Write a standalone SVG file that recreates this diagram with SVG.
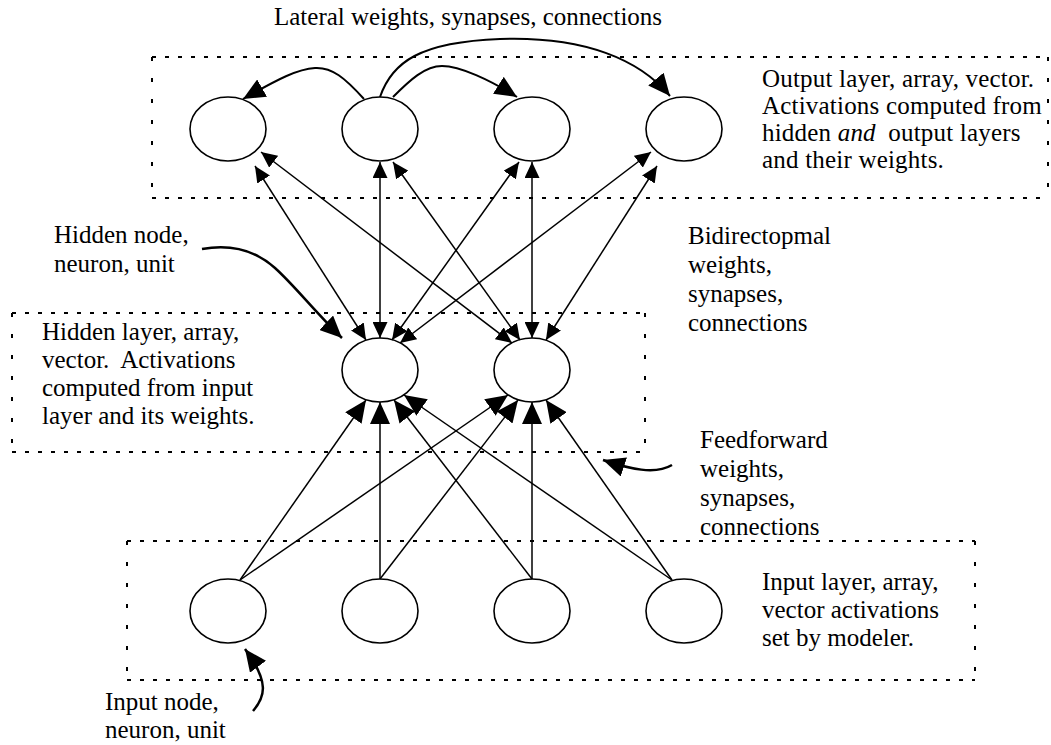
<svg xmlns="http://www.w3.org/2000/svg" width="1051" height="745" viewBox="0 0 1051 745">
<style>
.t{font-family:"Liberation Serif","Times New Roman",serif;font-size:25px;fill:#000}
.node{fill:#fff;stroke:#000;stroke-width:1.6}
.hd{stroke:#000;stroke-width:2;stroke-dasharray:4 9;fill:none}
.vd{stroke:#000;stroke-width:2;stroke-dasharray:4 17;fill:none}
.bi{stroke:#000;stroke-width:1.5;fill:none;marker-start:url(#aS);marker-end:url(#aS)}
.ff{stroke:#000;stroke-width:1.5;fill:none;marker-end:url(#aM)}
.lat{stroke:#000;stroke-width:2;fill:none;marker-end:url(#aL)}
.ann{stroke:#000;stroke-width:2.5;fill:none;marker-end:url(#aL)}
</style>
<defs>
<marker id="aS" markerUnits="userSpaceOnUse" viewBox="0 0 16 15" markerWidth="16" markerHeight="15" refX="16" refY="7.5" orient="auto-start-reverse"><path d="M0,0 L16,7.5 L0,15 z" fill="#000"/></marker>
<marker id="aM" markerUnits="userSpaceOnUse" viewBox="0 0 22 20" markerWidth="22" markerHeight="20" refX="22" refY="10" orient="auto"><path d="M0,0 L22,10 L0,20 z" fill="#000"/></marker>
<marker id="aL" markerUnits="userSpaceOnUse" viewBox="0 0 22 20" markerWidth="22" markerHeight="20" refX="22" refY="10" orient="auto"><path d="M0,0 L22,10 L0,20 z" fill="#000"/></marker>
</defs>

<g id="layer-boxes">
<line class="hd" x1="152" y1="57" x2="1048" y2="57"/>
<line class="hd" x1="152" y1="198" x2="1048" y2="198"/>
<line class="vd" x1="152" y1="57" x2="152" y2="198"/>
<line class="vd" x1="1048" y1="57" x2="1048" y2="198"/>
<line class="hd" x1="12" y1="313" x2="645" y2="313"/>
<line class="hd" x1="12" y1="452" x2="645" y2="452"/>
<line class="vd" x1="12" y1="313" x2="12" y2="452"/>
<line class="vd" x1="645" y1="313" x2="645" y2="452"/>
<line class="hd" x1="127" y1="541" x2="975" y2="541"/>
<line class="hd" x1="127" y1="680" x2="975" y2="680"/>
<line class="vd" x1="127" y1="541" x2="127" y2="680"/>
<line class="vd" x1="975" y1="541" x2="975" y2="680"/>
</g>

<g id="out1"><ellipse class="node" cx="228" cy="129" rx="38" ry="32"/></g>
<g id="out2"><ellipse class="node" cx="380" cy="129" rx="38" ry="32"/></g>
<g id="out3"><ellipse class="node" cx="532" cy="129" rx="38" ry="32"/></g>
<g id="out4"><ellipse class="node" cx="684" cy="129" rx="38" ry="32"/></g>
<g id="hid1"><ellipse class="node" cx="380" cy="370" rx="38" ry="32"/></g>
<g id="hid2"><ellipse class="node" cx="532" cy="370" rx="38" ry="32"/></g>
<g id="in1"><ellipse class="node" cx="228" cy="611" rx="38" ry="32"/></g>
<g id="in2"><ellipse class="node" cx="380" cy="611" rx="38" ry="32"/></g>
<g id="in3"><ellipse class="node" cx="532" cy="611" rx="38" ry="32"/></g>
<g id="in4"><ellipse class="node" cx="684" cy="611" rx="38" ry="32"/></g>

<g id="connectors">
<line class="bi" x1="255" y1="166" x2="366" y2="340"/>
<line class="bi" x1="261" y1="152" x2="512" y2="343"/>
<line class="bi" x1="380" y1="162" x2="380" y2="338"/>
<line class="bi" x1="393" y1="162" x2="520" y2="340"/>
<line class="bi" x1="519" y1="162" x2="392" y2="340"/>
<line class="bi" x1="532" y1="162" x2="532" y2="338"/>
<line class="bi" x1="651" y1="152" x2="400" y2="343"/>
<line class="bi" x1="657" y1="166" x2="546" y2="340"/>
<line class="ff" x1="240" y1="580" x2="366" y2="400"/>
<line class="ff" x1="240" y1="580" x2="508" y2="395"/>
<line class="ff" x1="380" y1="579" x2="380" y2="402"/>
<line class="ff" x1="380" y1="579" x2="518" y2="400"/>
<line class="ff" x1="532" y1="579" x2="394" y2="400"/>
<line class="ff" x1="532" y1="579" x2="532" y2="402"/>
<line class="ff" x1="672" y1="580" x2="404" y2="395"/>
<line class="ff" x1="672" y1="580" x2="546" y2="400"/>
<path class="lat" d="M364,99 C345,78 332,67 315,68 C298,69 280,78 243,99"/>
<path class="lat" d="M393,97 C410,80 425,66 442,66 C460,66 490,80 517,97"/>
<path class="lat" d="M380,97 C392,62 420,42 500,39 C585,36 640,60 670,96"/>
<path class="ann" d="M202,249 C230,244 255,250 275,268 C295,286 315,312 342,338"/>
<path class="ann" d="M672,465 C655,475 630,469 603,460"/>
<path class="ann" d="M253,711 C265,697 270,683 245,649"/>
</g>

<g id="labels">
<text class="t" x="274" y="25">Lateral weights, synapses, connections</text>
<text class="t" x="762" y="87" letter-spacing="0.2">Output layer, array, vector.</text>
<text class="t" x="762" y="114" letter-spacing="0.2">Activations computed from</text>
<text class="t" x="762" y="141" letter-spacing="0.2">hidden <tspan font-style="italic">and</tspan><tspan dx="6"> output layers</tspan></text>
<text class="t" x="762" y="168" letter-spacing="0.2">and their weights.</text>
<text class="t" x="54" y="243">Hidden node,</text>
<text class="t" x="54" y="272">neuron, unit</text>
<text class="t" x="688" y="244">Bidirectopmal</text>
<text class="t" x="688" y="273">weights,</text>
<text class="t" x="688" y="302">synapses,</text>
<text class="t" x="688" y="331">connections</text>
<text class="t" x="42" y="340">Hidden layer, array,</text>
<text class="t" x="42" y="368">vector.<tspan dx="6"> Activations</tspan></text>
<text class="t" x="42" y="396">computed from input</text>
<text class="t" x="42" y="424">layer and its weights.</text>
<text class="t" x="700" y="448">Feedforward</text>
<text class="t" x="700" y="477">weights,</text>
<text class="t" x="700" y="506">synapses,</text>
<text class="t" x="700" y="535">connections</text>
<text class="t" x="762" y="590">Input layer, array,</text>
<text class="t" x="762" y="618">vector activations</text>
<text class="t" x="762" y="646">set by modeler.</text>
<text class="t" x="105" y="710">Input node,</text>
<text class="t" x="105" y="738">neuron, unit</text>
</g>
</svg>
